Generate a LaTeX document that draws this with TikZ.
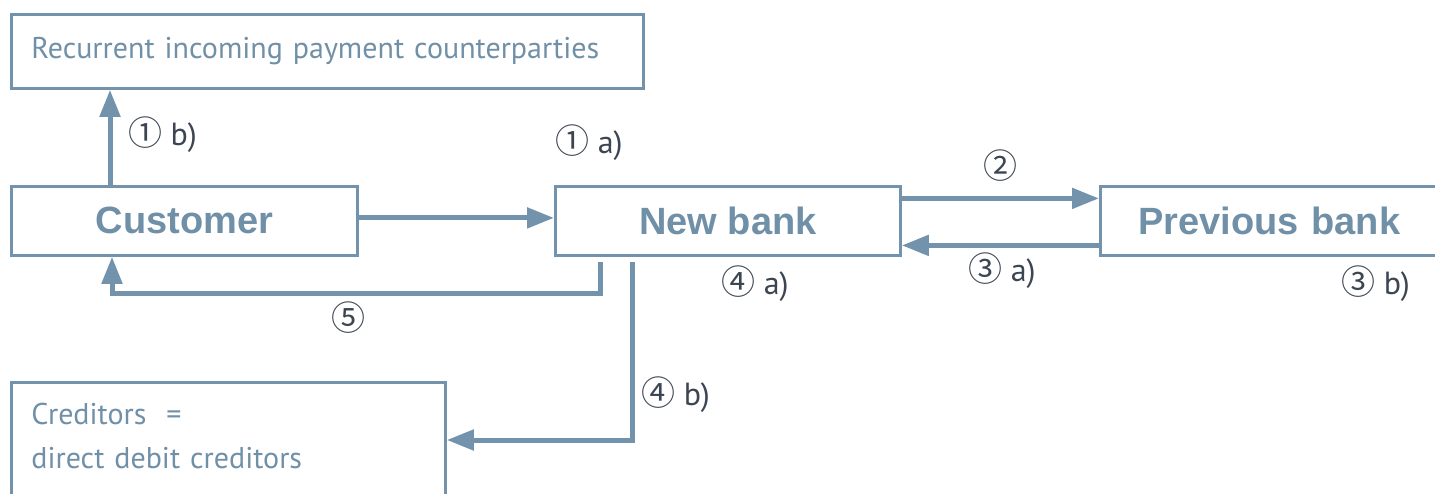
\documentclass[tikz,border=0pt]{standalone}
\usepackage{fontspec}
\setmainfont{PT Sans}
\newfontfamily\circfont{Noto Sans CJK SC}
\newfontfamily\boldfont{Liberation Sans}
\usetikzlibrary{arrows.meta}
\definecolor{lineblue}{HTML}{7393AD}
\definecolor{textblue}{HTML}{7090A8}
\definecolor{labelgray}{HTML}{3C4652}
\tikzset{
  box/.style={draw=lineblue, line width=2.8pt, rectangle, inner sep=0pt, anchor=north west},
  boldbox/.style={box, font=\boldfont\fontsize{38}{40}\selectfont\bfseries, text=textblue},
  plainbox/.style={box, font=\fontsize{30}{44}\selectfont, text=textblue, align=left},
  arr/.style={draw=lineblue, line width=5pt, -{Triangle[length=27pt,width=20pt]}},
  lbl/.style={anchor=west, inner sep=0pt, text=labelgray, font=\fontsize{32}{34}\selectfont},
}
\newcommand{\cd}[1]{{\circfont\fontsize{34}{36}\selectfont #1}}
\begin{document}
\begin{tikzpicture}[x=1pt,y=-1pt]
\useasboundingbox (0,0) rectangle (1435,493);
\clip (0,0) rectangle (1435,493);
\node[plainbox, minimum width=632pt, minimum height=74pt, text width=592pt, inner xsep=20pt] (rec) at (10,13) {Recurrent incoming payment counterparties};
\node[boldbox, minimum width=346pt, minimum height=69pt] (cust) at (10,185) {Customer};
\node[boldbox, minimum width=345pt, minimum height=69pt] (nb) at (554,185) {New bank};
\node[boldbox, minimum width=380pt, minimum height=69pt, text width=380pt, align=left] (pb) at (1099,185) {\hspace*{38pt}Previous bank};
\node[plainbox, minimum width=434pt, minimum height=140pt, text width=394pt, inner xsep=20pt, text depth=78pt] (cred) at (10,381) {Creditors\ \ =\\direct debit creditors};
% connectors
\draw[arr] ([xshift=100pt]cust.north west) -- ([xshift=100pt]cust.north west |- rec.south);
\draw[arr] ([yshift=3pt]cust.east) -- ([yshift=3pt]nb.west);
\draw[arr] ([yshift=22.5pt]nb.east) -- ([yshift=22.5pt]pb.west);
\draw[arr] ([yshift=-24.5pt]pb.west) -- ([yshift=-24.5pt]nb.east);
\coordinate (s5) at ([xshift=46pt,yshift=-5pt]nb.south west);
\coordinate (s4) at ([xshift=78pt,yshift=-5pt]nb.south west);
\coordinate (b5) at (600,293);
\coordinate (b4) at (632,440);
\draw[arr] (s5) -- (b5) -- ([xshift=102pt]cust.south west |- b5) -- ([xshift=102pt]cust.south west);
\draw[arr] (s4) -- (b4) -- (b4 -| cred.east);
% labels
\node[lbl] (l1b) at (128,135) {\cd{①} b)};
\node[lbl] (l1a) at (555,143) {\cd{①} a)};
\node[lbl] (l2) at (983,166) {\cd{②}};
\node[lbl] (l3a) at (968,271) {\cd{③} a)};
\node[lbl] (l3b) at (1341,284) {\cd{③} b)};
\node[lbl] (l4a) at (721,284) {\cd{④} a)};
\node[lbl] (l5) at (331,318) {\cd{⑤}};
\node[lbl] (l4b) at (641,395) {\cd{④} b)};
\end{tikzpicture}
\end{document}
